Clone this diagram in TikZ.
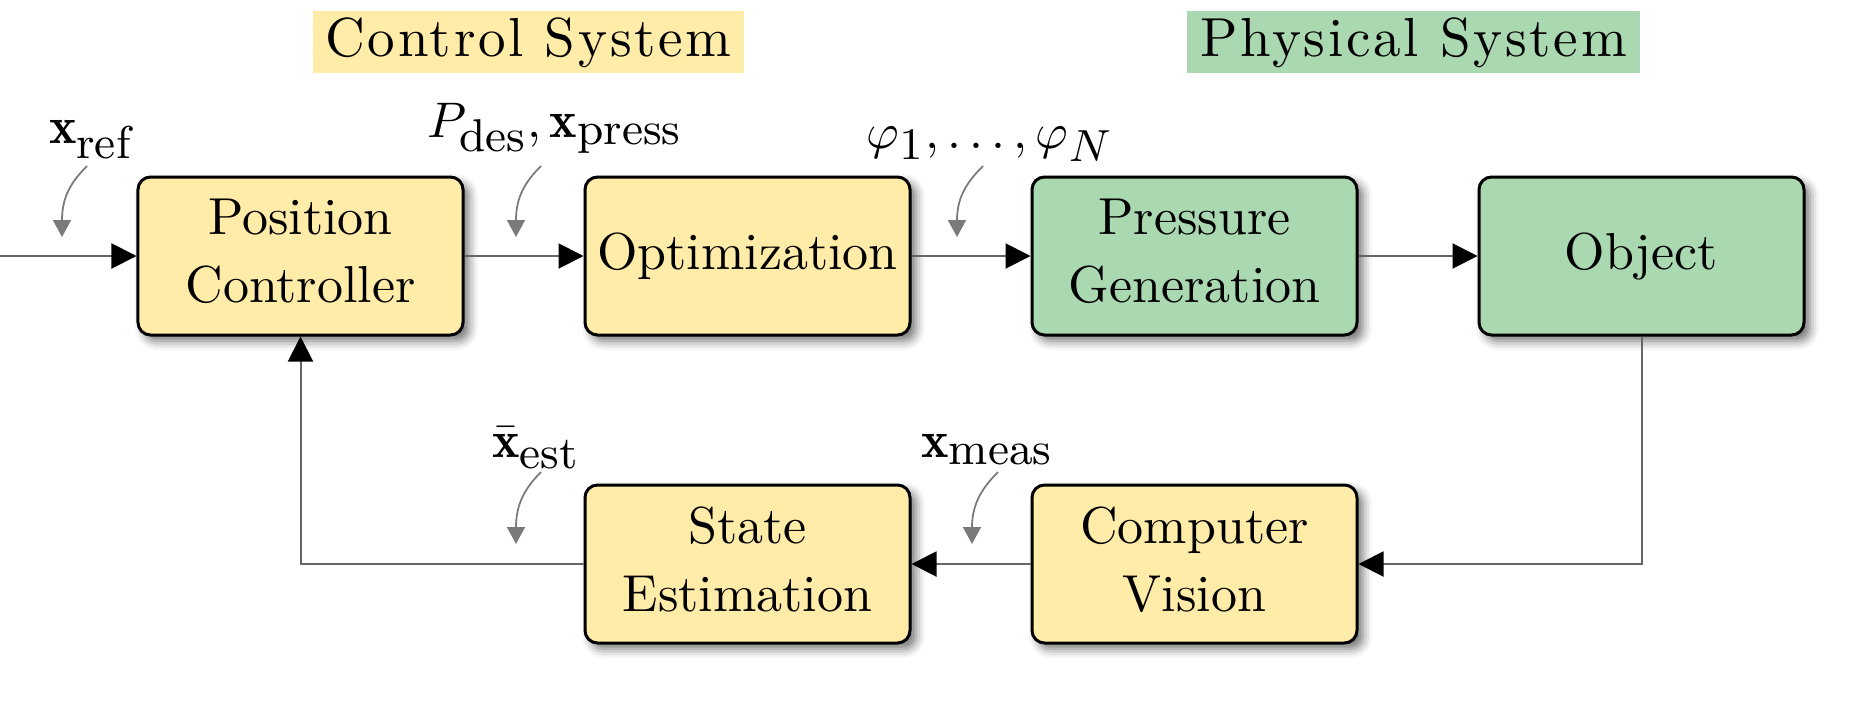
\documentclass[tikz,border=0pt]{standalone}
\usepackage{fontspec}
\usepackage{amsmath}
\usetikzlibrary{arrows.meta,shadows.blur}
\DeclareMathSizes{10.4}{10.4}{9.2}{7}
\definecolor{cyel}{HTML}{FFECA9}
\definecolor{cgrn}{HTML}{AAD8B1}
\definecolor{cline}{HTML}{666666}
\definecolor{carr}{HTML}{7A7A7A}
\newfontfamily\titlefont{lmroman10-regular.otf}[LetterSpace=5]
\begin{document}
\begin{tikzpicture}[x=0.2pt,y=0.2pt,
  blk/.style={draw=black, line width=0.6pt, rounded corners=2.5pt,
    minimum width=65pt, minimum height=31.6pt, align=center, inner sep=0pt,
    font=\fontsize{10.4}{13.6}\selectfont,
    blur shadow={shadow xshift=1.2pt, shadow yshift=-1.2pt, shadow blur radius=1.8pt, shadow opacity=55}},
  twoline/.style={text depth=2pt},
  ctrl/.style={blk, fill=cyel},
  phys/.style={blk, fill=cgrn},
  conn/.style={draw=cline, line width=0.4pt, -{Triangle[length=5pt,width=5pt,color=black]}},
  sig/.style={draw=carr, line width=0.35pt, -{Triangle[length=3.4pt,width=3.6pt]}},
  lbl/.style={anchor=base, inner sep=0pt, font=\fontsize{10.4}{12}\selectfont},
  ttl/.style={inner sep=0pt, minimum height=12.4pt, text height=8pt, text depth=2.4pt,
    font=\fontsize{11}{13}\titlefont}
]
\useasboundingbox (0,0) rectangle (1855,-721);

% titles
\node[ttl, fill=cyel, minimum width=86.2pt] (tctrl) at (528.5,-42) {Control System};
\node[ttl, fill=cgrn, minimum width=90.6pt] (tphys) at (1413.5,-42) {Physical System};

% blocks
\node[ctrl, twoline] (pc)  at (300.5,-256)  {Position\\Controller};
\node[ctrl] (opt) at (747.5,-256)  {Optimization};
\node[phys, twoline] (pg)  at (1194.5,-256) {Pressure\\Generation};
\node[phys] (obj) at (1641.5,-256) {Object};
\node[ctrl, twoline] (se)  at (747.5,-564)  {State\\Estimation};
\node[ctrl, twoline] (cv)  at (1194.5,-564) {Computer\\Vision};

% connectors
\coordinate (in) at (0,-256);
\draw[conn] (in) -- (pc.west);
\draw[conn] (pc.east) -- (opt.west);
\draw[conn] (opt.east) -- (pg.west);
\draw[conn] (pg.east) -- (obj.west);
\draw[conn] (obj.south) |- (cv.east);
\draw[conn] (cv.west) -- (se.east);
\draw[conn] (se.west) -| (pc.south);

% signal labels
\node[lbl] (lref)   at (91,-143) {$\mathbf{x}_{\mathrm{ref}}$};
\node[lbl] (lpress) at (555,-137)  {$P_{\mathrm{des}}, \mathbf{x}_{\mathrm{press}}$};
\node[lbl] (lphi)   at (990,-148)  {$\varphi_1, \ldots, \varphi_N$};
\node[lbl] (lest)   at (536.5,-457) {$\bar{\mathbf{x}}_{\mathrm{est}}$};
\node[lbl] (lmeas)  at (987.5,-457) {$\mathbf{x}_{\mathrm{meas}}$};

% curved pointer arrows
\coordinate (sref) at (87,-166);   \coordinate (tref) at (62,-237);
\coordinate (spress) at (541,-166); \coordinate (tpress) at (516,-237);
\coordinate (sphi) at (983,-166);  \coordinate (tphi) at (957,-237);
\coordinate (sest) at (541,-472);  \coordinate (test) at (516,-544);
\coordinate (smeas) at (998,-472); \coordinate (tmeas) at (972,-544);
\draw[sig] (sref) .. controls ($(sref)+(-16,-16)$) and ($(tref)+(0,40)$) .. (tref);
\draw[sig] (spress) .. controls ($(spress)+(-16,-16)$) and ($(tpress)+(0,40)$) .. (tpress);
\draw[sig] (sphi) .. controls ($(sphi)+(-16,-16)$) and ($(tphi)+(0,40)$) .. (tphi);
\draw[sig] (sest) .. controls ($(sest)+(-16,-16)$) and ($(test)+(0,40)$) .. (test);
\draw[sig] (smeas) .. controls ($(smeas)+(-16,-16)$) and ($(tmeas)+(0,40)$) .. (tmeas);
\end{tikzpicture}
\end{document}
